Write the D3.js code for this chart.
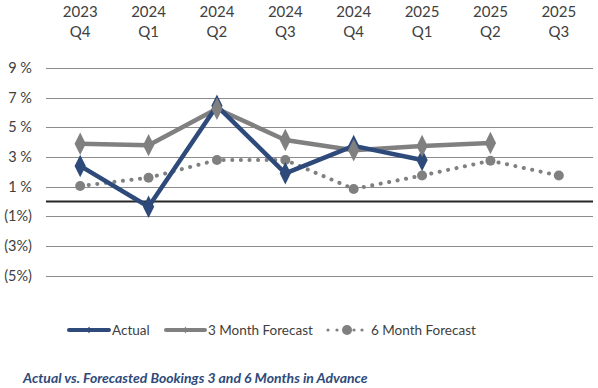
<!DOCTYPE html>
<html>
<head>
<meta charset="utf-8">
<script src="https://cdn.jsdelivr.net/npm/d3@7"></script>
<style>
  body { margin: 0; background: #fff; }
  text { font-family: Lato, "Open Sans", sans-serif; fill: #404040; }
</style>
</head>
<body>
<div class="chart"></div>
<script>
// Chart data
var quarters = ["2023 Q4", "2024 Q1", "2024 Q2", "2024 Q3", "2024 Q4", "2025 Q1", "2025 Q2", "2025 Q3"];
var actual = [2.4, -0.35, 6.45, 1.9, 3.75, 2.8, null, null];
var forecast3 = [3.9, 3.8, 6.25, 4.15, 3.45, 3.75, 3.95, null];
var forecast6 = [1.05, 1.6, 2.8, 2.8, 0.85, 1.75, 2.75, 1.75];
var yTicks = [-5, -3, -1, 1, 3, 5, 7, 9];
var seriesNames = ["Actual", "3 Month Forecast", "6 Month Forecast"];

var svgWidth = 598;
var svgHeight = 388;
var margin = { top: 68, right: 5, bottom: 112, left: 46 };
var width = svgWidth - margin.left - margin.right;
var height = svgHeight - margin.top - margin.bottom;

var blue = "#2E4A7A";
var grey = "#808080";

var svg = d3.select(".chart")
  .append("svg")
  .attr("width", svgWidth)
  .attr("height", svgHeight);
var chart = svg.append("g")
  .attr("transform", "translate(" + margin.left + "," + margin.top + ")");

// Scales
var xScale = d3.scalePoint()
  .domain(quarters)
  .range([0, width])
  .padding(0.5);
var yScale = d3.scaleLinear()
  .domain([-5, 9])
  .range([height - 0.3, 0]);

// Gridlines
chart.selectAll(".grid")
  .data(yTicks)
  .enter().append("line")
    .attr("x1", 0)
    .attr("x2", width)
    .attr("y1", function(d) { return Math.round(yScale(d)) + 0.5; })
    .attr("y2", function(d) { return Math.round(yScale(d)) + 0.5; })
    .attr("stroke", "#8c8c8c")
    .attr("stroke-width", 1);

// Zero line
chart.append("line")
  .attr("x1", 0)
  .attr("x2", width)
  .attr("y1", yScale(0))
  .attr("y2", yScale(0))
  .attr("stroke", "#262626")
  .attr("stroke-width", 2);

// Y labels
chart.selectAll(".ylab")
  .data(yTicks)
  .enter().append("text")
    .attr("x", -14)
    .attr("y", function(d) { return yScale(d); })
    .attr("dy", "0.35em")
    .attr("text-anchor", "end")
    .style("font-size", "14.5px")
    .text(function(d) { return d < 0 ? "(" + Math.abs(d) + "%)" : d + " %"; });

// Top category labels
var topAxis = chart.selectAll(".xlab")
  .data(quarters)
  .enter().append("text")
    .attr("text-anchor", "middle")
    .attr("transform", function(d) { return "translate(" + xScale(d) + ",0)"; })
    .style("font-size", "15px");
topAxis.append("tspan")
  .attr("x", 0)
  .attr("y", -51)
  .text(function(d) { return d.split(" ")[0]; });
topAxis.append("tspan")
  .attr("x", 0)
  .attr("y", -31)
  .text(function(d) { return d.split(" ")[1]; });

function pts(values) {
  return quarters.map(function(q, i) { return { q: q, v: values[i] }; })
    .filter(function(d) { return d.v !== null; });
}

var line = d3.line()
  .x(function(d) { return xScale(d.q); })
  .y(function(d) { return yScale(d.v); });

var diamond = d3.symbol().type(d3.symbolDiamond).size(110);

// 6 month forecast (dotted)
chart.append("path")
  .datum(pts(forecast6))
  .attr("d", line)
  .attr("fill", "none")
  .attr("stroke", grey)
  .attr("stroke-width", 4)
  .attr("stroke-linecap", "round")
  .attr("stroke-dasharray", "0.1 8.5");
chart.selectAll(".dot6")
  .data(pts(forecast6))
  .enter().append("circle")
    .attr("cx", function(d) { return xScale(d.q); })
    .attr("cy", function(d) { return yScale(d.v); })
    .attr("r", 5)
    .attr("fill", grey);

// 3 month forecast
chart.append("path")
  .datum(pts(forecast3))
  .attr("d", line)
  .attr("fill", "none")
  .attr("stroke", grey)
  .attr("stroke-width", 4.5)
  .attr("stroke-linejoin", "round");

// Actual
chart.append("path")
  .datum(pts(actual))
  .attr("d", line)
  .attr("fill", "none")
  .attr("stroke", blue)
  .attr("stroke-width", 4.5)
  .attr("stroke-linejoin", "round");
chart.selectAll(".markA")
  .data(pts(actual))
  .enter().append("path")
    .attr("d", diamond)
    .attr("transform", function(d) { return "translate(" + xScale(d.q) + "," + yScale(d.v) + ") scale(1,1.15)"; })
    .attr("fill", blue);

chart.selectAll(".mark3")
  .data(pts(forecast3))
  .enter().append("path")
    .attr("d", diamond)
    .attr("transform", function(d) { return "translate(" + xScale(d.q) + "," + yScale(d.v) + ") scale(1,1.15)"; })
    .attr("fill", grey);

// Legend
var legend = svg.append("g").attr("transform", "translate(0,330)");
var legendItems = [
  { name: seriesNames[0], x1: 69, x2: 109, color: blue, dots: false },
  { name: seriesNames[1], x1: 166, x2: 205, color: grey, dots: false },
  { name: seriesNames[2], x1: 328, x2: 362, color: grey, dots: true }
];
legendItems.forEach(function(item) {
  var mid = (item.x1 + item.x2) / 2;
  if (item.dots) {
    [328, 337, 354, 362].forEach(function(x) {
      legend.append("circle").attr("cx", x).attr("cy", 0).attr("r", 1.6).attr("fill", item.color);
    });
    legend.append("circle").attr("cx", 347).attr("cy", 0).attr("r", 5).attr("fill", item.color);
  } else {
    legend.append("line")
      .attr("x1", item.x1).attr("x2", item.x2)
      .attr("y1", 0).attr("y2", 0)
      .attr("stroke", item.color)
      .attr("stroke-width", 4)
      .attr("stroke-linecap", "round");
    legend.append("path")
      .attr("d", d3.symbol().type(d3.symbolDiamond).size(14))
      .attr("transform", "translate(" + mid + ",0)")
      .attr("fill", item.color);
  }
  legend.append("text")
    .attr("x", item.x2 + (item.dots ? 9 : 3))
    .attr("y", 0)
    .attr("dy", "0.35em")
    .style("font-size", "13.5px")
    .text(item.name);
});

// Title
svg.append("text")
  .attr("x", 23)
  .attr("y", 383)
  .style("font-size", "14px")
  .style("font-weight", "bold")
  .style("font-style", "italic")
  .style("fill", "#2E4A7A")
  .text("Actual vs. Forecasted Bookings 3 and 6 Months in Advance");
</script>
</body>
</html>
